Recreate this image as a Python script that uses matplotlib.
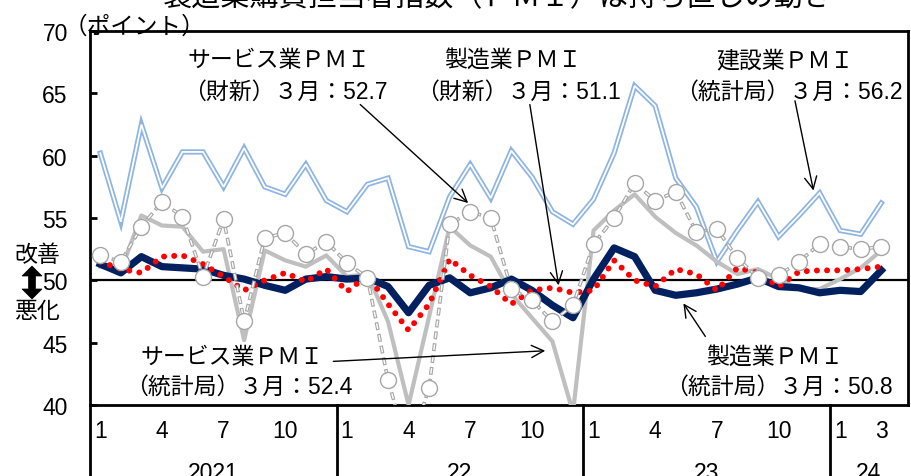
import matplotlib
matplotlib.use('Agg')
import matplotlib.pyplot as plt
from matplotlib.patches import Polygon

plt.rcParams['font.family'] = ['Liberation Sans', 'Noto Sans CJK JP']
plt.rcParams['lines.scale_dashes'] = False

# ---- data: Jan 2021 .. Mar 2024 (39 months) ----
months = list(range(39))
construction = [60.2, 54.7, 62.5, 57.4, 60.3, 60.3, 57.5, 60.6, 57.5, 56.9, 59.3, 56.4,
                55.5, 57.7, 58.2, 52.7, 52.3, 56.7, 59.3, 56.6, 60.4, 58.3, 55.5, 54.5,
                56.5, 60.2, 65.6, 64.0, 58.2, 55.9, 51.5, 54.0, 56.3, 53.5, 55.2, 57.0,
                54.0, 53.7, 56.2]
caixin_services = [52.0, 51.5, 54.3, 56.3, 55.1, 50.3, 54.9, 46.7, 53.4, 53.8, 52.1, 53.1,
                   51.4, 50.2, 42.0, 36.2, 41.4, 54.5, 55.5, 55.0, 49.3, 48.4, 46.7, 48.0,
                   52.9, 55.0, 57.8, 56.4, 57.1, 53.9, 54.1, 51.8, 50.2, 50.4, 51.5, 52.9,
                   52.7, 52.5, 52.7]
caixin_mfg = [51.5, 50.9, 50.6, 51.9, 52.0, 51.3, 50.3, 49.2, 50.0, 50.6, 49.9, 50.9,
              49.1, 50.4, 48.1, 46.0, 48.1, 51.7, 50.4, 49.5, 48.1, 49.2, 49.4, 49.0,
              49.2, 51.6, 50.0, 49.5, 50.9, 50.5, 49.2, 51.0, 50.6, 49.5, 50.7, 50.8,
              50.8, 50.9, 51.1]
nbs_services = [51.1, 50.8, 55.2, 54.4, 54.3, 52.3, 52.5, 45.2, 52.4, 51.6, 51.1, 52.0,
                50.3, 50.5, 46.7, 40.0, 47.1, 54.3, 52.8, 51.9, 48.9, 47.0, 45.1, 39.4,
                54.0, 55.6, 56.9, 55.1, 53.8, 52.8, 51.5, 50.5, 50.9, 50.1, 49.3, 49.3,
                50.1, 51.0, 52.4]
nbs_mfg = [51.3, 50.6, 51.9, 51.1, 51.0, 50.9, 50.4, 50.1, 49.6, 49.2, 50.1, 50.3,
           50.1, 50.2, 49.5, 47.4, 49.6, 50.2, 49.0, 49.4, 50.1, 49.2, 48.0, 47.0,
           50.1, 52.6, 51.9, 49.2, 48.8, 49.0, 49.3, 49.7, 50.2, 49.5, 49.4, 49.0,
           49.2, 49.1, 50.8]

tick_pos = [0, 3, 6, 9, 12, 15, 18, 21, 24, 27, 30, 33, 36, 38]
tick_labels = ['1', '4', '7', '10', '1', '4', '7', '10', '1', '4', '7', '10', '1', '3']
years = ['2021', '22', '23', '24']
year_bounds = [-0.5, 11.5, 23.5, 35.5, 39.3]
yticks = [40, 45, 50, 55, 60, 65, 70]

W, H = 912, 477
fig = plt.figure(figsize=(W / 100, H / 100), dpi=100)
ax = fig.add_axes([90 / W, (H - 406) / H, (908 - 90) / W, (406 - 32) / H])
ax.set_xlim(year_bounds[0], year_bounds[-1])
ax.set_ylim(40, 70)

FS = 16.5

# construction: double light-blue line
ax.plot(months, construction, color='#8DB4E2', lw=3.8, zorder=2, solid_joinstyle='miter')
ax.plot(months, construction, color='white', lw=1.3, zorder=2.1, solid_joinstyle='miter')

ax.axhline(50, color='black', lw=1.6, zorder=2.5)

ax.plot(months, nbs_services, color='#BFBFBF', lw=3.0, zorder=3)
ax.plot(months, nbs_mfg, color='#002060', lw=5.2, zorder=4)
ax.plot(months, caixin_mfg, color='#FF0000', lw=4.3, linestyle=(0, (0.01, 7.3)),
        dash_capstyle='round', zorder=5)
# caixin services: hollow dashed grey with circles
ax.plot(months, caixin_services, color='#A6A6A6', lw=2.6, linestyle=(0, (5.7, 2.9)), zorder=6)
ax.plot(months, caixin_services, color='white', lw=1.0, linestyle=(7.8, (4.1, 4.5)), zorder=6.1)
ax.plot(months, caixin_services, linestyle='none', marker='o', ms=11.5,
        mfc='white', mec='#A6A6A6', mew=1.0, zorder=7)

# axes styling
for s in ax.spines.values():
    s.set_linewidth(2)
    s.set_color('black')
ax.set_yticks(yticks)
ax.set_yticklabels([str(v) for v in yticks], fontsize=FS)
ax.tick_params(axis='y', direction='in', length=5, width=2, pad=16)
ax.set_xticks(tick_pos)
ax.set_xticklabels(tick_labels, fontsize=FS)
ax.tick_params(axis='x', length=0, pad=10)

xt = ax.get_xaxis_transform()
for b in year_bounds[:-1]:
    ax.plot([b, b], [0, -0.2], transform=xt, color='black', lw=2, clip_on=False)
for i, y in enumerate(years):
    ax.text((year_bounds[i] + year_bounds[i + 1]) / 2, -0.149, y, transform=xt,
            ha='center', va='top', fontsize=FS)

# annotations
def note(x, y, s, **kw):
    ax.text(x, y, s, ha='center', va='center', fontsize=FS, zorder=10, **kw)

def arrow(tip, start):
    ax.annotate('', xy=tip, xytext=start,
                arrowprops=dict(arrowstyle='->', color='black', lw=1.0,
                                mutation_scale=22, shrinkA=0, shrinkB=0), zorder=10)

note(8.7, 67.7, 'サービス業ＰＭＩ')
note(9.0, 65.2, '（財新）３月：52.7')
arrow((17.9, 56.2), (12.65, 64.1))

note(20.05, 67.7, '製造業ＰＭＩ')
note(20.35, 65.2, '（財新）３月：51.1')
arrow((22.3, 49.6), (20.9, 64.1))

note(33.3, 67.7, '建設業ＰＭＩ')
note(33.5, 65.2, '（統計局）３月：56.2')
arrow((34.7, 57.2), (33.8, 64.4))

note(6.4, 43.9, 'サービス業ＰＭＩ')
note(6.75, 41.5, '（統計局）３月：52.4')
arrow((21.65, 44.35), (11.34, 43.5))

note(32.8, 43.9, '製造業ＰＭＩ')
note(33.0, 41.5, '（統計局）３月：50.8')
arrow((28.37, 48.15), (29.44, 45.5))

# figure-level labels
fig.text(64 / W, 1 - 28 / H, '（ポイント）', ha='left', va='center', fontsize=17)
fig.text(37 / W, 1 - 256 / H, '改善', ha='center', va='center', fontsize=FS)
fig.text(37 / W, 1 - 311 / H, '悪化', ha='center', va='center', fontsize=FS)

# up-down double arrow (figure pixel geometry)
cx, top, bot = 32, 267, 300
hw, sw, hh = 10, 3.5, 10
pts = [(cx, top), (cx + hw, top + hh), (cx + sw, top + hh), (cx + sw, bot - hh),
       (cx + hw, bot - hh), (cx, bot), (cx - hw, bot - hh), (cx - sw, bot - hh),
       (cx - sw, top + hh), (cx - hw, top + hh)]
fig.add_artist(Polygon([(px / W, 1 - py / H) for px, py in pts], closed=True,
                       transform=fig.transFigure, facecolor='black', edgecolor='black', lw=0.5))

fig.text(498 / W, 1 - 6 / H, '製造業購買担当者指数（ＰＭＩ）は持ち直しの動き',
         ha='center', va='baseline', fontsize=21)

fig.savefig('out.png', dpi=100)
